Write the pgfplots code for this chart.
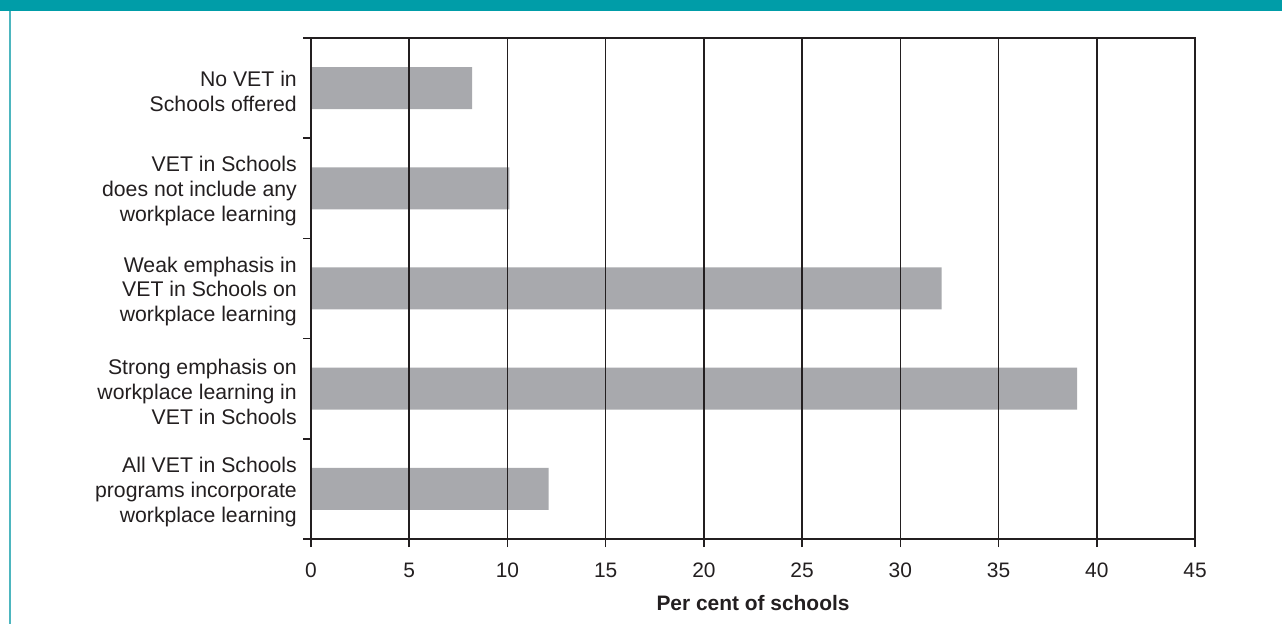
\documentclass[border=0pt]{standalone}
\usepackage{fontspec}
\setmainfont{Liberation Sans}
\usepackage{pgfplots}
\pgfplotsset{compat=1.18}
\definecolor{bandteal}{HTML}{009DA8}
\definecolor{edgeteal}{HTML}{4DB6BF}
\definecolor{bargray}{HTML}{A8A9AD}
\definecolor{inkdark}{HTML}{231F20}
\begin{document}
\begin{tikzpicture}
\useasboundingbox (0,0) rectangle (1282bp,624bp);
\fill[white] (0,0) rectangle (1282bp,624bp);
\fill[bandteal] (0,613bp) rectangle (1282bp,624bp);
\draw[edgeteal, line width=1.6bp] (10bp,0) -- (10bp,613bp);
\begin{axis}[
    at={(311bp,85bp)}, anchor=south west,
    scale only axis,
    width=884bp, height=501bp,
    xbar, bar width=42bp, bar shift=0pt,
    xmin=0, xmax=45,
    ymin=-0.5, ymax=4.5,
    xtick={0,5,...,45},
    ytick={0,1,2,3,4},
    yticklabels={{All VET in Schools\\programs incorporate\\workplace learning},
                 {Strong emphasis on\\workplace learning in\\VET in Schools},
                 {Weak emphasis in\\VET in Schools on\\workplace learning},
                 {VET in Schools\\does not include any\\workplace learning},
                 {No VET in\\Schools offered}},
    xtick pos=bottom, ytick pos=left,
    tick align=outside,
    xtick style={inkdark, line width=1.5bp},
    major tick length=8bp,
    ytick style={draw=none},
    extra y ticks={-0.5,0.5,1.5,2.5,3.5,4.5},
    extra y tick labels={},
    extra y tick style={ytick style={draw=inkdark, line width=1.5bp}, tick align=outside},
    xmajorgrids,
    major grid style={inkdark, line width=1.5bp},
    axis line style={inkdark, line width=1.6bp},
    axis on top,
    /pgf/number format/assume math mode=true,
    xticklabel style={font=\fontsize{21}{25}\selectfont, text=inkdark, anchor=base, yshift=-30bp},
    yticklabel style={font=\fontsize{21.3}{25}\selectfont, text=inkdark, align=right, anchor=east, inner sep=0pt, xshift=-6bp, yshift=-3bp},
    xlabel={\textbf{Per cent of schools}},
    xlabel style={font=\fontsize{21}{25}\selectfont, text=inkdark, at={(axis description cs:0.5,0)}, anchor=base, yshift=-71bp},
]
\addplot[fill=bargray, draw=none] coordinates {(12.1,0) (39,1) (32.1,2) (10.1,3) (8.2,4)};
\end{axis}
\end{tikzpicture}
\end{document}
